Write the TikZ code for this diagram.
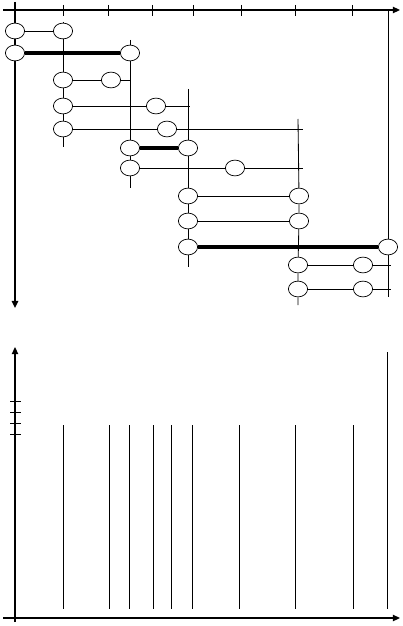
\documentclass[tikz,border=0pt]{standalone}
\usetikzlibrary{arrows.meta,shapes.geometric}

\begin{document}
\begin{tikzpicture}[x=0.5mm, y=-0.5mm, line width=1.2pt,
    ev/.style={ellipse, draw, fill=white, line width=1pt, minimum width=9.6mm, minimum height=7.9mm, inner sep=0pt},
    heavy/.style={line width=5pt},
    axis/.style={line width=2pt, -{Triangle[length=3.6mm, width=3.2mm]}}]
    \useasboundingbox (0,0) rectangle (402,626);

    % upper part
    \node[ev] (r1l) at (15,31) {};
    \node[ev] (r1r) at (63,31) {};
    \node[ev] (r2l) at (15,53) {};
    \node[ev] (r2r) at (130,53) {};
    \node[ev] (r3l) at (63,80) {};
    \node[ev] (r3r) at (111,80) {};
    \node[ev] (r4l) at (63,106) {};
    \node[ev] (r4r) at (156,106) {};
    \node[ev] (r5l) at (63,129) {};
    \node[ev] (r5r) at (167,129) {};
    \node[ev] (r6l) at (130,148) {};
    \node[ev] (r6r) at (188,148) {};
    \node[ev] (r7l) at (130,168) {};
    \node[ev] (r7r) at (235,168) {};
    \node[ev] (r8l) at (188,196) {};
    \node[ev] (r8r) at (299,196) {};
    \node[ev] (r9l) at (188,221) {};
    \node[ev] (r9r) at (299,221) {};
    \node[ev] (r10l) at (188,247) {};
    \node[ev] (r10r) at (388,247) {};
    \node[ev] (r11l) at (298,265) {};
    \node[ev] (r11r) at (363,265) {};
    \node[ev] (r12l) at (298,289) {};
    \node[ev] (r12r) at (363,289) {};

    \coordinate (r3e) at (130,80);
    \coordinate (r4e) at (190,106);
    \coordinate (r5e) at (303,129);
    \coordinate (r7e) at (303,168);
    \coordinate (r11e) at (391,265);
    \coordinate (r12e) at (391,289);

    \coordinate (v1t) at (63,22);
    \coordinate (v1b) at (63,147);
    \coordinate (v2t) at (130,40);
    \coordinate (v2b) at (130,188);
    \coordinate (v3t) at (188,89);
    \coordinate (v3b) at (188,267);
    \coordinate (v4t) at (298,119);
    \coordinate (v4b) at (298,305);
    \coordinate (v5t) at (388,10);
    \coordinate (v5b) at (388,297);

    \coordinate (ytop) at (15,2);
    \coordinate (yend) at (15,308);
    \coordinate (xbeg) at (3,10);
    \coordinate (xend) at (400,10);

    \draw[axis] (xbeg) -- (xend);
    \foreach \x in {63,108,152,193,241,295,352}
        \draw (\x,5) -- (\x,16);
    \draw[axis, line width=3.6pt] (ytop) -- (r1l) -- (r2l) -- (yend);

    \draw (v1t) -- (r1r) -- (r3l) -- (r4l) -- (r5l) -- (v1b);
    \draw (v2t) -- (r2r) -- (r6l) -- (r7l) -- (v2b);
    \draw (v3t) -- (r6r) -- (r8l) -- (r9l) -- (r10l) -- (v3b);
    \draw (v4t) -- (r8r) -- (r9r) -- (r11l) -- (r12l) -- (v4b);
    \draw (v5t) -- (r10r) -- (v5b);

    \draw (r1l) -- (r1r);
    \draw[heavy] (r2l) -- (r2r);
    \draw (r3l) -- (r3r) -- (r3e);
    \draw (r4l) -- (r4r) -- (r4e);
    \draw (r5l) -- (r5r) -- (r5e);
    \draw[heavy] (r6l) -- (r6r);
    \draw (r7l) -- (r7r) -- (r7e);
    \draw (r8l) -- (r8r);
    \draw (r9l) -- (r9r);
    \draw[heavy] (r10l) -- (r10r);
    \draw (r11l) -- (r11r) -- (r11e);
    \draw (r12l) -- (r12r) -- (r12e);

    % lower part
    \coordinate (zbeg) at (15,622);
    \coordinate (zend) at (15,347);
    \coordinate (tbeg) at (3,618);
    \coordinate (tend) at (400,618);

    \draw[axis] (zbeg) -- (zend);
    \draw[axis] (tbeg) -- (tend);
    \foreach \y in {401,412,423,434}
        \draw (10,\y) -- (21,\y);
    \foreach \x in {63,109,129,153,171,192,239,295,353}
        \draw (\x,425) -- (\x,609);
    \draw (387,352) -- (387,609);

\end{tikzpicture}
\end{document}
